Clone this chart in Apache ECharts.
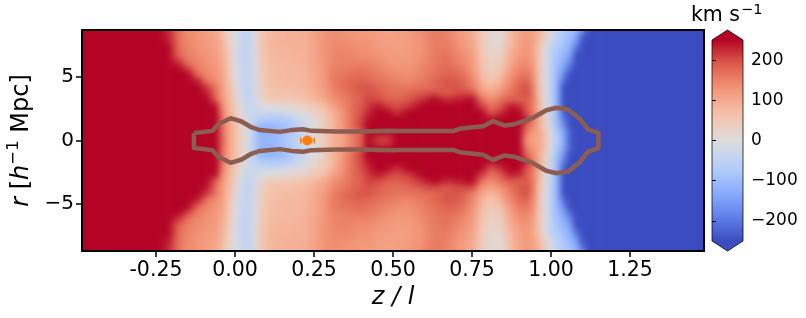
<!DOCTYPE html>
<html><head><meta charset="utf-8">
<style>html,body{margin:0;padding:0;background:#fff}#c{width:806px;height:318px}</style>
<script src="https://cdn.jsdelivr.net/npm/echarts@6/dist/echarts.min.js"></script>
</head><body><div id="c"></div>
<script>
const zTicks=[-0.25,0,0.25,0.5,0.75,1,1.25];
const rTicks=[-5,0,5];
const cbTicks=[-200,-100,0,100,200];
const zCols=[-0.60,-0.24,-0.21,-0.18,-0.15,-0.12,-0.09,-0.06,-0.04,-0.02,0.00,0.02,0.04,0.06,0.08,0.10,0.13,0.16,0.19,0.22,0.25,0.28,0.31,0.34,0.37,0.40,0.42,0.45,0.48,0.51,0.55,0.59,0.63,0.67,0.71,0.75,0.78,0.81,0.84,0.87,0.90,0.92,0.94,0.96,0.98,1.00,1.02,1.04,1.06,1.08,1.10,1.12,1.15,1.60];
const rAbs=[0.25,0.75,1.25,1.75,2.25,2.75,3.25,3.75,4.25,4.75,5.25,5.75,6.25,6.75,7.25,7.75,8.25,8.75];
const v025=[300,300,300,300,300,300,300,280,180,110,70,30,-10,-60,-115,-115,-105,-80,-55,-25,5,45,90,110,150,190,270,220,210,270,280,280,300,300,300,300,300,300,300,300,280,140,115,110,70,-10,-70,-130,-230,-300,-300,-300,-300,-300];
const v075=[300,300,300,300,300,300,300,280,170,110,70,30,-10,-60,-120,-125,-115,-90,-60,-30,5,45,90,115,160,190,270,300,280,300,300,300,300,300,300,300,300,300,300,300,290,170,130,110,60,-20,-80,-140,-230,-300,-300,-300,-300,-300];
const v125=[300,300,300,300,300,300,300,280,170,110,70,25,-15,-55,-110,-110,-105,-90,-60,-30,0,35,80,125,170,215,280,300,300,300,300,300,300,300,300,300,300,300,300,300,290,190,150,100,40,-30,-95,-170,-260,-300,-300,-300,-300,-300];
const v175=[300,300,300,300,300,300,300,280,160,100,60,15,-20,-45,-60,-70,-75,-70,-40,-15,10,40,80,130,170,205,240,300,300,255,300,300,300,300,300,300,300,240,300,300,300,240,170,110,30,-35,-105,-200,-290,-300,-300,-300,-300,-300];
const v225=[300,300,300,300,300,300,300,270,150,95,50,5,-30,-35,-35,-35,-30,-20,-5,10,30,55,90,130,170,200,225,280,260,220,255,300,300,300,300,300,255,190,225,290,285,200,170,105,20,-35,-110,-230,-300,-300,-300,-300,-300,-300];
const v275=[300,300,300,300,300,300,290,240,135,90,40,-5,-40,-30,-10,0,5,10,20,30,50,70,110,140,170,195,210,240,215,200,215,260,300,290,290,300,215,165,190,235,225,195,160,90,10,-40,-120,-250,-300,-300,-300,-300,-300,-300];
const v325=[300,300,300,300,300,300,270,190,125,85,30,-15,-45,-25,15,40,50,50,55,60,80,100,130,150,170,190,205,205,190,185,195,220,260,225,235,260,170,140,170,190,190,190,170,85,5,-45,-130,-270,-300,-300,-300,-300,-300,-300];
const v375=[300,300,300,300,300,285,240,165,120,80,20,-25,-50,-25,25,55,65,65,70,75,90,110,140,160,175,190,200,190,175,170,180,195,205,190,205,205,130,110,135,165,190,200,170,80,0,-50,-125,-285,-300,-300,-300,-300,-300,-300];
const v425=[300,300,300,300,290,270,215,160,120,75,10,-30,-50,-20,30,60,70,75,75,80,95,120,150,170,185,195,195,185,170,165,165,170,180,195,195,160,105,80,110,150,185,200,165,75,-5,-50,-125,-255,-300,-300,-300,-300,-300,-300];
const v475=[300,300,300,300,270,235,165,135,115,70,5,-30,-45,-15,35,65,75,80,80,85,100,125,155,170,180,185,180,170,160,150,145,160,180,195,190,150,90,60,90,140,175,185,155,70,-5,-55,-120,-215,-300,-300,-300,-300,-300,-300];
const v525=[300,300,300,290,250,185,145,130,110,65,0,-35,-45,-15,35,65,75,80,80,85,100,125,155,165,170,175,170,160,150,140,135,150,170,185,180,140,80,45,70,125,160,165,145,70,-5,-55,-115,-175,-275,-300,-300,-300,-300,-300];
const v575=[300,300,300,270,210,155,140,125,105,60,0,-35,-45,-15,40,65,75,80,80,85,100,125,150,155,160,165,160,150,140,130,130,145,165,175,165,130,70,35,55,110,145,150,135,70,-5,-55,-105,-145,-215,-300,-300,-300,-300,-300];
const v625=[300,300,285,220,165,145,135,120,100,55,-5,-40,-45,-15,40,70,80,80,85,90,105,125,145,150,150,150,150,140,130,125,125,140,160,170,150,125,65,30,45,100,135,140,125,70,0,-55,-95,-130,-175,-285,-300,-300,-300,-300];
const v675=[300,300,270,185,155,140,130,115,95,50,-5,-40,-45,-15,45,70,80,85,85,90,105,130,145,150,145,140,140,130,125,120,120,135,160,165,145,120,60,25,35,90,125,130,120,70,0,-55,-85,-115,-145,-260,-300,-300,-300,-300];
const v725=[300,300,250,175,150,135,125,115,90,45,-5,-40,-45,-15,45,75,85,85,90,90,105,130,140,145,140,135,135,125,120,115,120,130,155,160,135,110,55,20,25,80,120,125,115,65,0,-55,-75,-100,-125,-215,-300,-300,-300,-300];
const v775=[300,300,240,170,145,130,120,110,85,40,-5,-40,-45,-15,50,75,85,90,90,90,105,130,140,140,135,130,130,120,115,115,120,130,155,155,130,105,50,15,15,75,115,125,115,80,20,-25,-65,-88,-110,-165,-285,-300,-300,-300];
const v825=[300,300,230,170,140,130,118,105,75,30,-5,-38,-45,-15,50,75,85,90,90,95,110,130,135,135,130,125,125,118,112,115,120,135,158,150,125,100,48,15,10,70,110,125,115,90,35,-10,-55,-78,-100,-135,-230,-300,-300,-300];
const v875=[300,300,225,170,140,130,115,100,70,20,-5,-35,-45,-15,50,75,85,90,90,95,110,130,135,130,125,125,125,115,110,115,120,135,160,150,125,100,45,15,10,70,110,125,115,95,40,-5,-50,-70,-90,-115,-180,-260,-300,-300];
const rowValues=[v025,v075,v125,v175,v225,v275,v325,v375,v425,v475,v525,v575,v625,v675,v725,v775,v825,v875];
const tubeZ=[-0.13,-0.071,-0.053,-0.014,0.021,0.053,0.079,0.142,0.179,0.216,0.242,0.321,0.395,0.49,0.522,0.69,0.716,0.785,0.817,0.853,0.885,0.943,0.985,1.017,1.054,1.09,1.117,1.15];
const tubeR=[0.6,0.76,1.29,1.76,1.5,1.03,0.82,0.68,0.82,0.89,0.76,0.71,0.71,0.76,0.74,0.74,0.95,1.13,1.53,1.18,1.29,1.79,2.39,2.58,2.45,1.74,0.87,0.6];
const cbLevels=[-250,-225,-200,-175,-150,-125,-100,-75,-50,-25,0,25,50,75,100,125,150,175,200,225,250];
const marker=[0.229,0];
const markerErr=[0.208,0.251];

const cmap=[[59,76,192],[98,130,234],[141,176,254],[184,208,249],[221,220,220],[245,196,173],[244,152,122],[222,96,77],[180,4,38]];
function col(v){
  const t=Math.max(0,Math.min(1,(v+250)/500))*8,i=Math.min(7,Math.floor(t)),f=t-i;
  const c=cmap[i].map((a,k)=>Math.round(a+(cmap[i+1][k]-a)*f));
  return 'rgb('+c.join(',')+')';
}
const dh=0.25;
const rEdge=rAbs[rAbs.length-1];
const cells=[];
rAbs.forEach((r,j)=>{[1,-1].forEach(s=>{
  const outer=(r===rEdge)?1:0;
  const lo=s>0?r-dh:-r-dh-outer, hi=s>0?r+dh+outer:-r+dh;
  for(let i=0;i<zCols.length-1;i++){
    cells.push([zCols[i],zCols[i+1],lo,hi,rowValues[j][i],rowValues[j][i+1]]);
  }
});});
const tubeData=[];
tubeZ.forEach((z,i)=>tubeData.push([z,tubeR[i]]));
for(let i=tubeZ.length-1;i>=0;i--)tubeData.push([tubeZ[i],-tubeR[i]]);
tubeData.push([tubeZ[0],tubeR[0]]);
const cbStops=cbLevels.map(v=>({offset:(v-cbLevels[0])/(cbLevels[cbLevels.length-1]-cbLevels[0]),color:col(v)}));

const FONT='DejaVu Sans';
const mn=s=>String(s).replace('-','\u2212');
const chart=echarts.init(document.getElementById('c'),null,{renderer:'canvas'});
const zMin=-0.484,zMax=1.484,rMin=-8.72,rMax=8.72;
const ZL=1;
chart.setOption({
  animation:false,
  backgroundColor:'transparent',
  grid:[{left:82,top:30,width:622,height:221,containLabel:false,outerBoundsMode:'none'},{left:712,top:40,width:31,height:201,outerBoundsMode:'none'}],
  xAxis:[
   {type:'value',gridIndex:0,min:zMin,max:zMax,zlevel:ZL,z:10,splitLine:{show:false},
    axisLine:{show:true,onZero:false,lineStyle:{color:'#000',width:2}},
    axisTick:{show:true,length:6,lineStyle:{color:'#000',width:1.5},customValues:zTicks},
    axisLabel:{show:true,customValues:zTicks,formatter:v=>v.toFixed(2),fontFamily:FONT,fontSize:20.5,color:'#000',margin:9},
    name:'z / l',nameLocation:'middle',nameGap:35,nameTextStyle:{fontFamily:FONT,fontSize:24,fontStyle:'italic',color:'#000'}},
   {type:'value',gridIndex:0,position:'top',min:zMin,max:zMax,zlevel:ZL,z:10,splitLine:{show:false},axisLine:{show:true,onZero:false,lineStyle:{color:'#000',width:2}},axisTick:{show:false},axisLabel:{show:false}},
   {type:'value',gridIndex:1,min:0,max:1,show:false}
  ],
  yAxis:[
   {type:'value',gridIndex:0,min:rMin,max:rMax,zlevel:ZL,z:10,splitLine:{show:false},
    axisLine:{show:true,onZero:false,lineStyle:{color:'#000',width:2}},
    axisTick:{show:true,length:6,lineStyle:{color:'#000',width:1.5},customValues:rTicks},
    axisLabel:{show:true,customValues:rTicks,formatter:v=>mn(v),fontFamily:FONT,fontSize:20,color:'#000',margin:8},
    name:'{i|r} [{i|h}{s|\u22121} Mpc]',nameLocation:'middle',nameRotate:90,nameGap:43,
    nameTextStyle:{fontFamily:FONT,fontSize:24,color:'#000',rich:{i:{fontFamily:FONT,fontSize:24,fontStyle:'italic',color:'#000'},s:{fontFamily:FONT,fontSize:16.5,color:'#000',verticalAlign:'top',lineHeight:32}}}},
   {type:'value',gridIndex:0,position:'right',min:rMin,max:rMax,zlevel:ZL,z:10,splitLine:{show:false},axisLine:{show:true,onZero:false,lineStyle:{color:'#000',width:2}},axisTick:{show:false},axisLabel:{show:false}},
   {type:'value',gridIndex:1,position:'right',min:-250,max:250,zlevel:ZL,z:10,splitLine:{show:false},axisLine:{show:false},
    axisTick:{show:true,length:4,lineStyle:{color:'#000',width:1},customValues:cbTicks},
    axisLabel:{show:true,customValues:cbTicks,formatter:v=>mn(v),fontFamily:FONT,fontSize:17,color:'#000',margin:8}}
  ],
  series:[
   {type:'custom',name:'velocity',xAxisIndex:0,yAxisIndex:0,clip:false,zlevel:0,z:2,silent:true,data:cells,progressive:0,
    renderItem(p,api){
      const a=api.coord([api.value(0),api.value(3)]),b=api.coord([api.value(1),api.value(2)]);
      return {type:'rect',shape:{x:a[0]-0.3,y:a[1]-0.6,width:b[0]-a[0]+0.6,height:b[1]-a[1]+1.2},
        style:{fill:new echarts.graphic.LinearGradient(0,0,1,0,[{offset:0,color:col(api.value(4))},{offset:1,color:col(api.value(5))}])}};
    }},
   {type:'line',name:'tube',xAxisIndex:0,yAxisIndex:0,data:tubeData,symbol:'none',zlevel:ZL,z:4,silent:true,clip:true,
    lineStyle:{color:'#8c5e52',width:4.5,join:'round'}},
   {type:'custom',name:'err',xAxisIndex:0,yAxisIndex:0,zlevel:ZL,z:5,silent:true,data:[[markerErr[0],markerErr[1],marker[1]]],
    renderItem(p,api){
      const a=api.coord([api.value(0),api.value(2)]),b=api.coord([api.value(1),api.value(2)]);
      const st={stroke:'#ff7f0e',lineWidth:1.5,fill:null};
      return {type:'group',children:[
        {type:'line',shape:{x1:a[0],y1:a[1],x2:b[0],y2:b[1]},style:st},
        {type:'line',shape:{x1:a[0],y1:a[1]-3,x2:a[0],y2:a[1]+3},style:st},
        {type:'line',shape:{x1:b[0],y1:b[1]-3,x2:b[0],y2:b[1]+3},style:st}]};
    }},
   {type:'scatter',name:'marker',xAxisIndex:0,yAxisIndex:0,zlevel:ZL,z:6,silent:true,data:[marker],symbolSize:10,itemStyle:{color:'#ff7f0e',opacity:1}},
   {type:'custom',name:'cb',xAxisIndex:2,yAxisIndex:2,clip:false,zlevel:ZL,z:2,silent:true,data:[[cbLevels[0],cbLevels[cbLevels.length-1]]],
    renderItem(p,api){
      const a=api.coord([0,api.value(1)]),b=api.coord([1,api.value(0)]);
      return {type:'rect',shape:{x:a[0],y:a[1],width:b[0]-a[0],height:b[1]-a[1]},
        style:{fill:new echarts.graphic.LinearGradient(0,1,0,0,cbStops)}};
    }},
   {type:'custom',name:'cbExt',xAxisIndex:2,yAxisIndex:2,clip:false,zlevel:ZL,z:3,silent:true,data:[[0]],
    renderItem(p,api){
      const P=(x,v)=>api.coord([x,v]);
      const top=[P(0,250),P(0.5,275),P(1,250)],bot=[P(0,-250),P(0.5,-275),P(1,-250)];
      const out=[P(0,250),P(0.5,275),P(1,250),P(1,-250),P(0.5,-275),P(0,-250),P(0,250)];
      return {type:'group',children:[
        {type:'polygon',shape:{points:top},style:{fill:col(250)}},
        {type:'polygon',shape:{points:bot},style:{fill:col(-250)}},
        {type:'polyline',shape:{points:out},style:{stroke:'#000',lineWidth:1,opacity:0.75,fill:null}}]};
    }}
  ],
  graphic:[
   {type:'text',left:691,top:5,zlevel:ZL,z:20,silent:true,style:{text:'km s',fontFamily:FONT,fontSize:20.5,fill:'#000'}},
   {type:'text',left:741,top:3,zlevel:ZL,z:20,silent:true,style:{text:'\u22121',fontFamily:FONT,fontSize:14.5,fill:'#000'}}
  ]
});
// Soften the cell layer to the smooth shading of the original, trimmed to the plot frame.
const base=chart.getDom().querySelectorAll('canvas')[0];
base.style.filter='blur(2.5px)';
base.style.clipPath='inset(30px 102px 67px 82px)';
</script></body></html>
